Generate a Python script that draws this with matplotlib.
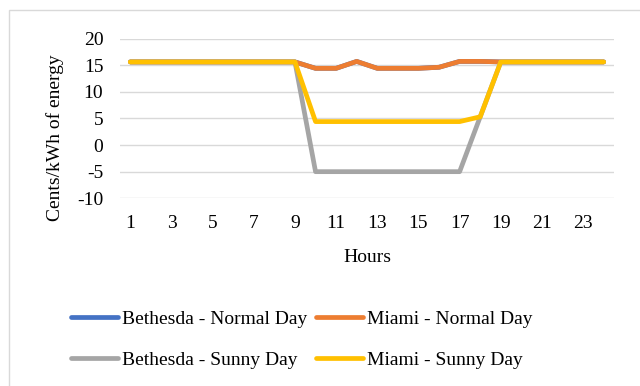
import matplotlib
import matplotlib.pyplot as plt
from matplotlib.patches import Rectangle

matplotlib.pyplot.switch_backend('Agg')
plt.rcParams['font.family'] = ['Liberation Serif', 'DejaVu Serif']
plt.rcParams['axes.unicode_minus'] = False

hours = [1, 2, 3, 4, 5, 6, 7, 8, 9, 10, 11, 12, 13, 14, 15, 16, 17, 18, 19, 20, 21, 22, 23, 24]
bethesda_normal = [15.6, 15.6, 15.6, 15.6, 15.6, 15.6, 15.6, 15.6, 15.6, 14.4, 14.4, 15.7,
                   14.4, 14.4, 14.4, 14.6, 15.7, 15.7, 15.6, 15.6, 15.6, 15.6, 15.6, 15.6]
miami_normal = [15.6, 15.6, 15.6, 15.6, 15.6, 15.6, 15.6, 15.6, 15.6, 14.4, 14.4, 15.7,
                14.4, 14.4, 14.4, 14.6, 15.7, 15.7, 15.6, 15.6, 15.6, 15.6, 15.6, 15.6]
bethesda_sunny = [15.6, 15.6, 15.6, 15.6, 15.6, 15.6, 15.6, 15.6, 15.6, -5.0, -5.0, -5.0,
                  -5.0, -5.0, -5.0, -5.0, -5.0, 5.3, 15.6, 15.6, 15.6, 15.6, 15.6, 15.6]
miami_sunny = [15.6, 15.6, 15.6, 15.6, 15.6, 15.6, 15.6, 15.6, 15.6, 4.4, 4.4, 4.4,
               4.4, 4.4, 4.4, 4.4, 4.4, 5.3, 15.6, 15.6, 15.6, 15.6, 15.6, 15.6]

series = [
    ('Bethesda - Normal Day', bethesda_normal, '#4472C4'),
    ('Miami - Normal Day', miami_normal, '#ED7D31'),
    ('Bethesda - Sunny Day', bethesda_sunny, '#A5A5A5'),
    ('Miami - Sunny Day', miami_sunny, '#FFC000'),
]

fig = plt.figure(figsize=(6.4, 3.86), dpi=100)
ax = fig.add_axes([120 / 640, 1 - 198.3 / 386, 494 / 640, 159.8 / 386])

lines = []
for name, vals, col in series:
    ln, = ax.plot(hours, vals, color=col, lw=3.4, label=name,
                  solid_capstyle='round', solid_joinstyle='round')
    lines.append(ln)

ax.set_xlim(0.5, 24.5)
ax.set_ylim(-10, 20)
ax.set_yticks([-10, -5, 0, 5, 10, 15, 20])
ax.set_xticks(hours[::2])
ax.grid(axis='y', color='#D9D9D9', lw=1)
ax.set_axisbelow(True)
for s in ax.spines.values():
    s.set_visible(False)
ax.tick_params(length=0, labelsize=14, colors='#000000')
ax.tick_params(axis='y', pad=12)
ax.tick_params(axis='x', pad=12)

fig.text(367 / 640, 1 - 257 / 386, 'Hours', ha='center', va='center', fontsize=14)
fig.text(55 / 640, 1 - 138 / 386, 'Cents/kWh of energy', ha='center', va='center',
         rotation=90, fontsize=14)

# legend fills by column, so order gives rows: Bethesda/Miami normal, then sunny
order = [0, 2, 1, 3]
fig.legend([lines[i] for i in order], [series[i][0] for i in order],
           loc='center', bbox_to_anchor=(302 / 640, 1 - 339.5 / 386), ncol=2,
           frameon=False, fontsize=14, handlelength=2.4, handletextpad=0.22,
           columnspacing=0.45, labelspacing=1.2, borderpad=0)

# outer chart border
fig.patches.append(Rectangle((9 / 640, -0.05), 1.1, 1 - 10 / 386 + 0.05,
                             transform=fig.transFigure, fill=False,
                             edgecolor='#D9D9D9', lw=1))

plt.savefig('out.png', dpi=100)
plt.close()
